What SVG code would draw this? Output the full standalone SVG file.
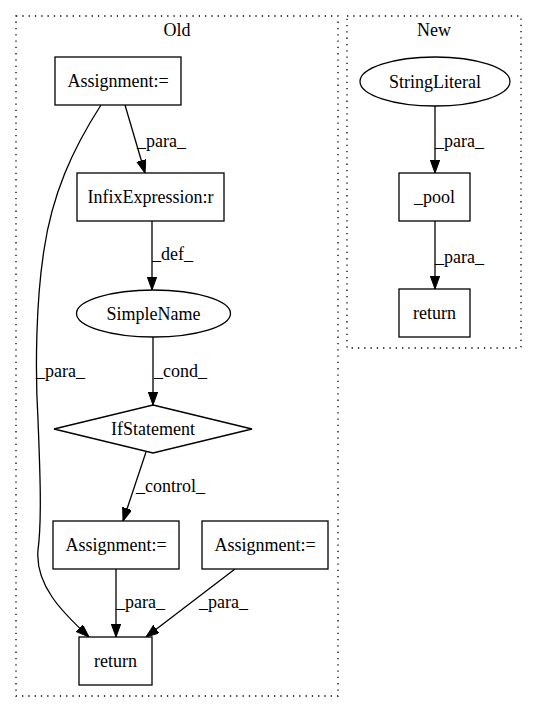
<svg xmlns="http://www.w3.org/2000/svg" width="536" height="712" viewBox="0 0 536 712">
<style>
text{font-family:"Liberation Serif","Times New Roman",serif;font-size:18px;fill:#000}
.c{text-anchor:middle}
.n{fill:#fff;stroke:#000;stroke-width:1.3}
.cl{fill:none;stroke:#000;stroke-width:1.3;stroke-dasharray:1.3,5}
.e{fill:none;stroke:#000;stroke-width:1.3;marker-end:url(#ah)}
</style>
<defs>
<marker id="ah" markerWidth="14" markerHeight="10" refX="13" refY="4.7" orient="auto" markerUnits="userSpaceOnUse">
<path d="M0,0 L13,4.7 L0,9.4 z" fill="#000" stroke="#000" stroke-width="1"/>
</marker>
</defs>
<rect width="536" height="712" fill="#fff"/>
<g id="cluster_old">
<rect class="cl" x="16" y="16" width="322" height="680"/>
<text class="c" x="177" y="36">Old</text>
</g>
<g id="cluster_new">
<rect class="cl" x="347" y="16" width="174" height="332"/>
<text class="c" x="434" y="36">New</text>
</g>
<g id="connectors">
<path class="e" d="M125,105 L145,173"/>
<text x="137" y="147">_para_</text>
<path class="e" d="M101,105 C72,150 52,195 44,250 C36,300 35,370 38,420 C40,470 42,520 38,550 C35,585 62,612 89,637"/>
<text x="36" y="377">_para_</text>
<path class="e" d="M152,221 L152,290"/>
<text x="152" y="260">_def_</text>
<path class="e" d="M153,337 L153,405"/>
<text x="154" y="377">_cond_</text>
<path class="e" d="M146,452 L123,521"/>
<text x="136" y="492">_control_</text>
<path class="e" d="M116,569 L116,637"/>
<text x="116" y="608">_para_</text>
<path class="e" d="M235,569 L146,637"/>
<text x="199" y="608">_para_</text>
<path class="e" d="M435,106 L435,173"/>
<text x="435" y="147">_para_</text>
<path class="e" d="M435,221 L435,289"/>
<text x="435" y="263">_para_</text>
</g>
<g id="assign_top">
<rect class="n" x="55" y="57" width="126" height="48"/>
<text class="c" x="118" y="87">Assignment:=</text>
</g>
<g id="infix">
<rect class="n" x="77" y="173" width="147" height="48"/>
<text class="c" x="150.5" y="203">InfixExpression:r</text>
</g>
<g id="simplename">
<ellipse class="n" cx="153.5" cy="313.5" rx="77" ry="23.5"/>
<text class="c" x="153.5" y="319.5">SimpleName</text>
</g>
<g id="ifstatement">
<polygon class="n" points="153,405 252,429 153,453 54,429"/>
<text class="c" x="153" y="435">IfStatement</text>
</g>
<g id="assign_left">
<rect class="n" x="53" y="521" width="126" height="48"/>
<text class="c" x="116" y="551">Assignment:=</text>
</g>
<g id="assign_right">
<rect class="n" x="202" y="521" width="126" height="48"/>
<text class="c" x="265" y="551">Assignment:=</text>
</g>
<g id="return_old">
<rect class="n" x="79" y="637" width="73" height="48"/>
<text class="c" x="115.5" y="667">return</text>
</g>
<g id="stringliteral">
<ellipse class="n" cx="435" cy="81.5" rx="75" ry="24.5"/>
<text class="c" x="435" y="87.5">StringLiteral</text>
</g>
<g id="pool">
<rect class="n" x="399" y="173" width="71" height="48"/>
<text class="c" x="434.5" y="203">_pool</text>
</g>
<g id="return_new">
<rect class="n" x="399" y="289" width="71" height="48"/>
<text class="c" x="434.5" y="319">return</text>
</g>
</svg>
